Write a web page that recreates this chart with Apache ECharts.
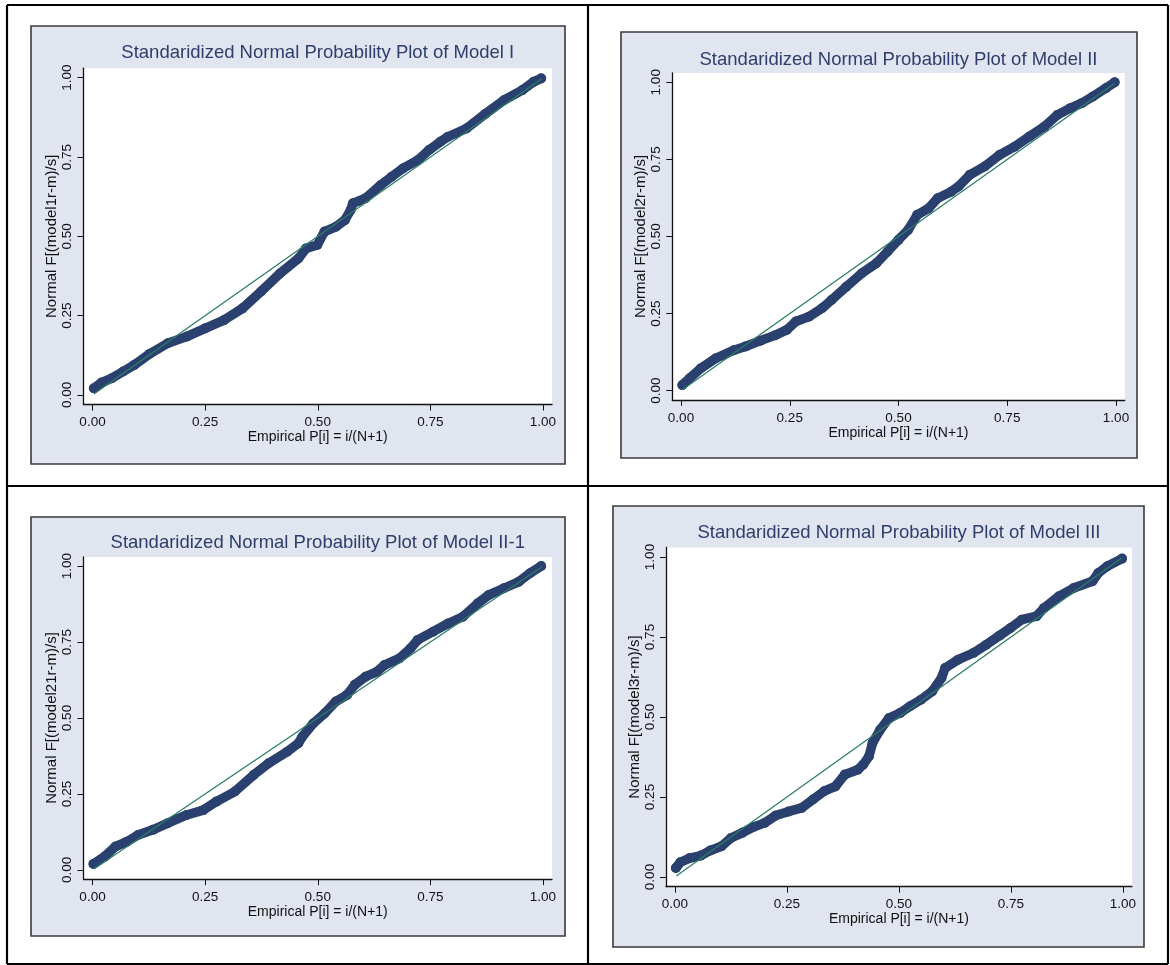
<!DOCTYPE html>
<html><head><meta charset="utf-8">
<script src="https://cdn.jsdelivr.net/npm/echarts@6/dist/echarts.min.js"></script>
<style>html,body{margin:0;padding:0;background:#fff}#c{width:1170px;height:965px}</style>
</head><body><div id="c"></div>
<script>
// ---- data ----
const titles = [
  'Standaridized Normal Probability Plot of Model I',
  'Standaridized Normal Probability Plot of Model II',
  'Standaridized Normal Probability Plot of Model II-1',
  'Standaridized Normal Probability Plot of Model III'
];
const yNames = [
  'Normal F[(model1r-m)/s]',
  'Normal F[(model2r-m)/s]',
  'Normal F[(model21r-m)/s]',
  'Normal F[(model3r-m)/s]'
];
const xName = 'Empirical P[i] = i/(N+1)';
const tickValues = [0, 0.25, 0.5, 0.75, 1];
const refP = [0.003, 0.997];
const refF = [0.003, 0.997];

const m1P = [0.003,0.02,0.043,0.068,0.093,0.126,0.167,0.209,0.25,0.292,0.333,0.374,0.416,0.457,0.474,0.499,0.515,0.54,0.56,0.573,0.578,0.606,0.64,0.664,0.689,0.722,0.747,0.772,0.789,0.83,0.872,0.913,0.954,0.979,0.996];
const m1F = [0.021,0.039,0.053,0.074,0.095,0.129,0.163,0.184,0.21,0.236,0.273,0.326,0.383,0.43,0.462,0.473,0.515,0.53,0.551,0.583,0.604,0.62,0.662,0.688,0.714,0.74,0.772,0.798,0.814,0.84,0.886,0.929,0.961,0.987,0.998];

const m2P = [0.003,0.02,0.045,0.08,0.123,0.148,0.183,0.217,0.243,0.264,0.294,0.324,0.346,0.38,0.415,0.449,0.475,0.5,0.522,0.543,0.569,0.59,0.621,0.638,0.664,0.698,0.732,0.767,0.801,0.835,0.865,0.895,0.921,0.947,0.977,0.997];
const m2F = [0.018,0.04,0.072,0.105,0.132,0.143,0.162,0.18,0.197,0.224,0.24,0.267,0.294,0.337,0.38,0.413,0.451,0.489,0.521,0.57,0.591,0.624,0.645,0.662,0.7,0.727,0.764,0.791,0.824,0.856,0.894,0.916,0.932,0.954,0.981,1.0];

const m21P = [0.002,0.027,0.051,0.076,0.101,0.134,0.167,0.209,0.246,0.275,0.316,0.358,0.391,0.432,0.457,0.466,0.49,0.515,0.54,0.565,0.582,0.606,0.631,0.648,0.681,0.706,0.722,0.756,0.789,0.822,0.855,0.88,0.913,0.946,0.971,0.996];
const m21F = [0.02,0.044,0.077,0.093,0.115,0.132,0.154,0.181,0.197,0.225,0.258,0.313,0.351,0.389,0.417,0.439,0.482,0.515,0.554,0.576,0.609,0.636,0.652,0.674,0.696,0.729,0.757,0.784,0.811,0.833,0.877,0.905,0.927,0.948,0.976,1.0];

const m3P = [0.002,0.012,0.033,0.058,0.079,0.104,0.125,0.15,0.175,0.2,0.225,0.254,0.283,0.308,0.333,0.358,0.379,0.408,0.42,0.433,0.441,0.458,0.478,0.503,0.524,0.549,0.574,0.595,0.603,0.632,0.666,0.695,0.724,0.749,0.774,0.807,0.824,0.857,0.89,0.932,0.945,0.965,0.998];
const m3F = [0.028,0.046,0.059,0.067,0.083,0.096,0.122,0.138,0.156,0.169,0.192,0.205,0.216,0.242,0.268,0.283,0.32,0.335,0.351,0.377,0.419,0.46,0.497,0.513,0.533,0.554,0.58,0.622,0.653,0.679,0.7,0.726,0.754,0.778,0.804,0.815,0.841,0.877,0.903,0.924,0.95,0.971,0.995];

const seriesP = [m1P, m2P, m21P, m3P];
const seriesF = [m1F, m2F, m21F, m3F];

// ---- layout ----
const panels = [
  {grid:{left:83.5, top:68.2, width:468.5, height:336.3}, box:[31,26,534,438], ty:53},
  {grid:{left:672.3, top:73.0, width:452.4, height:326.9}, box:[621,32,516,426], ty:60},
  {grid:{left:83.5, top:556.9, width:468.5, height:322.2}, box:[31,517,534,419], ty:543},
  {grid:{left:666, top:547.4, width:465.9, height:339.2}, box:[613,506,531,441], ty:533}
];
const FONT = '"Liberation Sans", Arial, sans-serif';
const NAVY = '#2a406f', GREEN = '#2d7d66', TITLE = '#2e3d6b';

const zip = (a, b) => a.map((v, i) => [v, b[i]]);

const grids = [], xAxes = [], yAxes = [], series = [], titleOpts = [], graphics = [];
panels.forEach((p, i) => {
  grids.push(Object.assign({show:true, backgroundColor:'#ffffff', borderWidth:0, containLabel:false}, p.grid));
  const cx = p.grid.left + p.grid.width / 2;
  titleOpts.push({text:titles[i], left:cx, top:p.ty - 10, textAlign:'center', padding:0,
    textStyle:{fontFamily:FONT, fontSize:18.5, fontWeight:'normal', color:TITLE, lineHeight:20}});
  xAxes.push({type:'value', gridIndex:i, min:-0.02, max:1.02,
    name:xName, nameLocation:'middle', nameGap:25,
    nameTextStyle:{fontFamily:FONT, fontSize:14, color:'#111'},
    axisLine:{show:true, onZero:false, lineStyle:{color:'#111', width:1.3}},
    axisTick:{show:true, length:6, lineStyle:{color:'#111', width:1}, customValues:tickValues},
    axisLabel:{show:true, margin:11, fontFamily:FONT, fontSize:13.5, color:'#111', customValues:tickValues,
      formatter:v => v.toFixed(2)},
    splitLine:{show:false}});
  yAxes.push({type:'value', gridIndex:i, min:-0.03, max:1.03,
    name:yNames[i], nameLocation:'middle', nameGap:23, nameRotate:90,
    nameTextStyle:{fontFamily:FONT, fontSize:15, color:'#111'},
    axisLine:{show:true, onZero:false, lineStyle:{color:'#111', width:1.3}},
    axisTick:{show:true, length:6, lineStyle:{color:'#111', width:1}, customValues:tickValues},
    axisLabel:{show:true, margin:9, rotate:90, fontFamily:FONT, fontSize:13.5, color:'#111', customValues:tickValues,
      formatter:v => v.toFixed(2)},
    splitLine:{show:false}});
  series.push({type:'line', xAxisIndex:i, yAxisIndex:i, data:zip(seriesP[i], seriesF[i]),
    symbol:'circle', symbolSize:10, showSymbol:true, smooth:false,
    itemStyle:{color:NAVY}, lineStyle:{color:NAVY, width:9.5, cap:'round', join:'round'},
    silent:true, animation:false, z:2});
  series.push({type:'line', xAxisIndex:i, yAxisIndex:i, data:zip(refP, refF),
    symbol:'none', lineStyle:{color:GREEN, width:1.3}, silent:true, animation:false, z:3});
  graphics.push({type:'rect', z:-10, shape:{x:p.box[0], y:p.box[1], width:p.box[2], height:p.box[3]},
    style:{fill:'#e0e5f0', stroke:'#3a3a3a', lineWidth:1.6}});
});
// table grid lines
const tl = [[7,5,1168,5],[7,486,1168,486],[7,964,1168,964],[7,5,7,964],[588,5,588,964],[1168,5,1168,964]];
tl.forEach(l => graphics.push({type:'line', z:-5, shape:{x1:l[0], y1:l[1], x2:l[2], y2:l[3]},
  style:{stroke:'#000', lineWidth:2.2}}));

const chart = echarts.init(document.getElementById('c'), null, {renderer:'canvas'});
chart.setOption({
  animation:false,
  backgroundColor:'#ffffff',
  title:titleOpts,
  grid:grids, xAxis:xAxes, yAxis:yAxes, series:series,
  graphic:{elements:graphics}
});
</script></body></html>
